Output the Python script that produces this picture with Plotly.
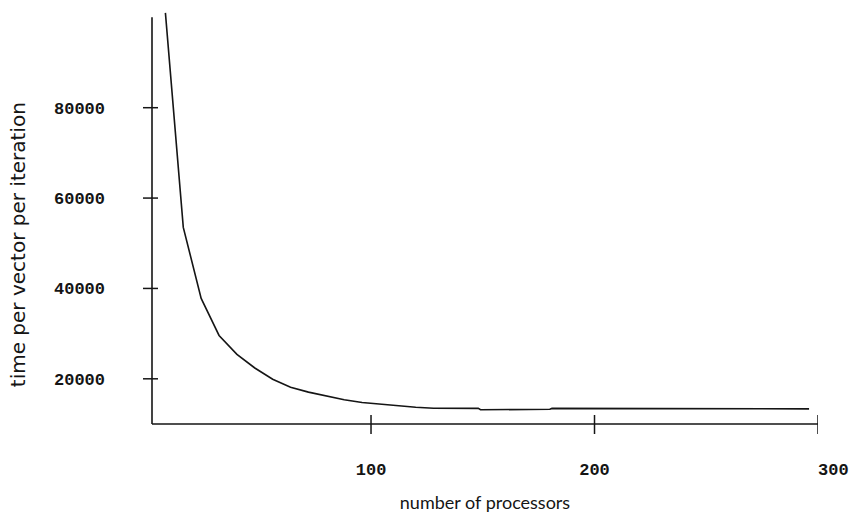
import plotly.graph_objects as go

# Measured run time per vector per iteration against processor count
processors = [8, 16, 24, 32, 40, 48, 56, 64, 72, 80, 88, 96, 104, 112, 120, 128,
              148, 149, 180, 181, 268, 269, 296]
time_per_iter = [101000, 53500, 37800, 29600, 25400, 22400, 19900, 18150, 17050,
                 16150, 15350, 14750, 14380, 14080, 13720, 13480,
                 13450, 13150, 13250, 13450, 13350, 13480, 13350]

x_ticks = [100, 200, 300]
x_tick_text = ["100", "200", "   300"]
y_ticks = [20000, 40000, 60000, 80000]
y_tick_text = ["20000", "40000", "60000", "80000"]

x_min, x_max = 2, 300
y_min, y_axis_top, y_view_top = 10000, 100000, 101400

ink = "#151515"
tick_font = dict(family="Liberation Mono", size=17, color=ink, weight="bold")

fig = go.Figure()
fig.add_trace(go.Scatter(x=processors, y=time_per_iter, mode="lines",
                         line=dict(color=ink, width=1.6), showlegend=False,
                         hoverinfo="skip"))

axis_common = dict(showgrid=False, zeroline=False, showline=False, ticks="",
                   automargin=False)

fig.update_layout(
    width=854, height=513,
    margin=dict(l=152, r=36, t=11, b=89),
    paper_bgcolor="white", plot_bgcolor="white",
    xaxis=dict(range=[x_min, x_max], tickmode="array", tickvals=x_ticks,
               ticktext=x_tick_text, ticklabelstandoff=33, tickfont=tick_font,
               title=dict(text="number of processors", standoff=22,
                          font=dict(family="Lato", size=18, color=ink)),
               **axis_common),
    yaxis=dict(range=[y_min, y_view_top], tickmode="array", tickvals=y_ticks,
               ticktext=y_tick_text, ticklabelstandoff=46, tickfont=tick_font,
               **axis_common),
)

# vertical axis title, set a little below the middle of the plot
fig.add_annotation(text="time per vector per iteration", textangle=-90,
                   xref="paper", yref="paper", x=0, y=0.433, xshift=-134,
                   xanchor="center", yanchor="middle", showarrow=False,
                   font=dict(family="DejaVu Sans", size=20, color=ink))

# axis lines: the vertical one stops at the top of the value scale
fig.add_shape(type="line", xref="x", yref="y domain", x0=x_min, x1=x_max, y0=0, y1=0,
              line=dict(color=ink, width=1.6))
fig.add_shape(type="line", xref="x domain", yref="y", x0=0, x1=0, y0=y_min, y1=y_axis_top,
              line=dict(color=ink, width=1.6))

# tick marks that cross the axis lines
for xv in x_ticks:
    fig.add_shape(type="line", xref="x", yref="y domain", ysizemode="pixel", yanchor=0,
                  x0=xv, x1=xv, y0=-10, y1=9, line=dict(color=ink, width=1.5))
for yv in y_ticks:
    fig.add_shape(type="line", xref="x domain", yref="y", xsizemode="pixel", xanchor=0,
                  x0=-9, x1=6, y0=yv, y1=yv, line=dict(color=ink, width=1.5))

fig.write_html("out.html")
